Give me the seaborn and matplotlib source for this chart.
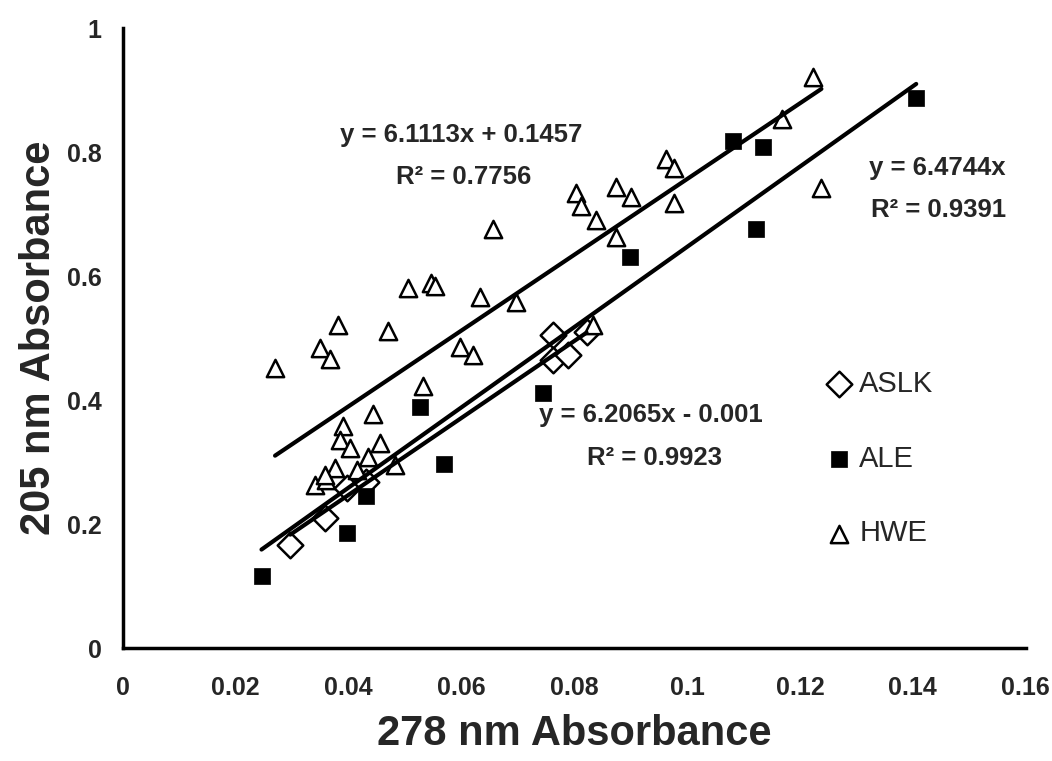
import numpy as np
import pandas as pd
import matplotlib
matplotlib.use("Agg")
import matplotlib.pyplot as plt
import seaborn as sns

# ASLK (open diamonds)
aslk_x = [0.0297, 0.0358, 0.0397, 0.0432, 0.0762, 0.0762, 0.0789, 0.0822]
aslk_y = [0.167, 0.210, 0.258, 0.269, 0.505, 0.465, 0.473, 0.510]

# ALE (filled squares)
ale_x = [0.0246, 0.0397, 0.0432, 0.0526, 0.0570, 0.0744, 0.0899, 0.1082, 0.1135, 0.1122, 0.1406]
ale_y = [0.117, 0.186, 0.246, 0.390, 0.297, 0.411, 0.631, 0.819, 0.809, 0.676, 0.888]

# HWE (open triangles)
hwe_x = [0.0270, 0.0381, 0.0350, 0.0367, 0.0470, 0.0505, 0.0546, 0.0553, 0.0634, 0.0697,
         0.0598, 0.0621, 0.0533, 0.0443, 0.0390, 0.0385, 0.0403, 0.0456, 0.0435, 0.0482,
         0.0376, 0.0341, 0.0360, 0.0358, 0.0415, 0.0657, 0.0803, 0.0812, 0.0839, 0.0874,
         0.0901, 0.0874, 0.0963, 0.0977, 0.0977, 0.1238, 0.0834, 0.1223, 0.1168]
hwe_y = [0.452, 0.521, 0.484, 0.466, 0.512, 0.581, 0.590, 0.584, 0.566, 0.559,
         0.486, 0.473, 0.423, 0.378, 0.359, 0.336, 0.323, 0.331, 0.309, 0.296,
         0.290, 0.263, 0.271, 0.280, 0.288, 0.677, 0.734, 0.713, 0.691, 0.744,
         0.728, 0.663, 0.789, 0.774, 0.719, 0.742, 0.521, 0.922, 0.853]

# trendline coefficients (slope, intercept) as printed on the chart
fit_names = ["ASLK", "ALE", "HWE"]
fit_slope = [6.2065, 6.4744, 6.1113]
fit_icept = [-0.001, 0.0, 0.1457]

x_ticks = [0, 0.02, 0.04, 0.06, 0.08, 0.1, 0.12, 0.14, 0.16]
y_ticks = [0, 0.2, 0.4, 0.6, 0.8, 1]

sns.set_style("white")
plt.rcParams['font.family'] = ['Liberation Sans', 'DejaVu Sans']

fig = plt.figure(figsize=(10.52, 7.61), dpi=100)
ax = fig.add_axes([0.1166, 0.1481, 0.8584, 0.8147])

sns.scatterplot(x=aslk_x, y=aslk_y, marker="D", s=170, color="white",
                edgecolor="black", linewidth=1.8, label="ASLK", ax=ax, zorder=3)
sns.scatterplot(x=ale_x, y=ale_y, marker="s", s=125, color="black",
                edgecolor="black", linewidth=0.5, label="ALE", ax=ax, zorder=3)
sns.scatterplot(x=hwe_x, y=hwe_y, marker="^", s=155, color="white",
                edgecolor="black", linewidth=1.8, label="HWE", ax=ax, zorder=3)

# trendlines over each series' x range
series = {"ASLK": aslk_x, "ALE": ale_x, "HWE": hwe_x}
for name, m, b in zip(fit_names, fit_slope, fit_icept):
    xs = np.array([min(series[name]), max(series[name])])
    sns.lineplot(x=xs, y=m * xs + b, color="black", linewidth=3, ax=ax,
                 zorder=4, legend=False)

# equation labels
eq_kw = dict(ha="center", va="baseline", fontsize=18.5, fontweight="bold")
ax.text(0.0600, 0.817, "y = 6.1113x + 0.1457", **eq_kw)
ax.text(0.0605, 0.749, "R² = 0.7756", **eq_kw)
ax.text(0.1443, 0.763, "y = 6.4744x", **eq_kw)
ax.text(0.1445, 0.696, "R² = 0.9391", **eq_kw)
ax.text(0.0936, 0.3655, "y = 6.2065x - 0.001", **eq_kw)
ax.text(0.0943, 0.2956, "R² = 0.9923", **eq_kw)

ax.set_xlim(0, 0.16)
ax.set_ylim(0, 1)
ax.set_xticks(x_ticks)
ax.set_yticks(y_ticks)
ax.set_xticklabels([f"{t:g}" for t in x_ticks], fontsize=18, fontweight="bold")
ax.set_yticklabels([f"{t:g}" for t in y_ticks], fontsize=18, fontweight="bold")
ax.tick_params(direction="out", length=5, width=2.5, pad=15, color="black")
ax.tick_params(axis="y", pad=10)

for side in ["top", "right"]:
    ax.spines[side].set_visible(False)
for side in ["left", "bottom"]:
    ax.spines[side].set_linewidth(2.5)
    ax.spines[side].set_color("black")

ax.set_xlabel("278 nm Absorbance", fontsize=30, fontweight="bold", labelpad=10)
ax.set_ylabel("205 nm Absorbance", fontsize=30, fontweight="bold", labelpad=6)

ax.legend(loc="center left", bbox_to_anchor=(0.777, 0.306), frameon=False,
          fontsize=21, handlelength=1.0, handletextpad=0.2, labelspacing=1.6,
          borderpad=0, borderaxespad=0)

fig.savefig("out.png", dpi=100)
